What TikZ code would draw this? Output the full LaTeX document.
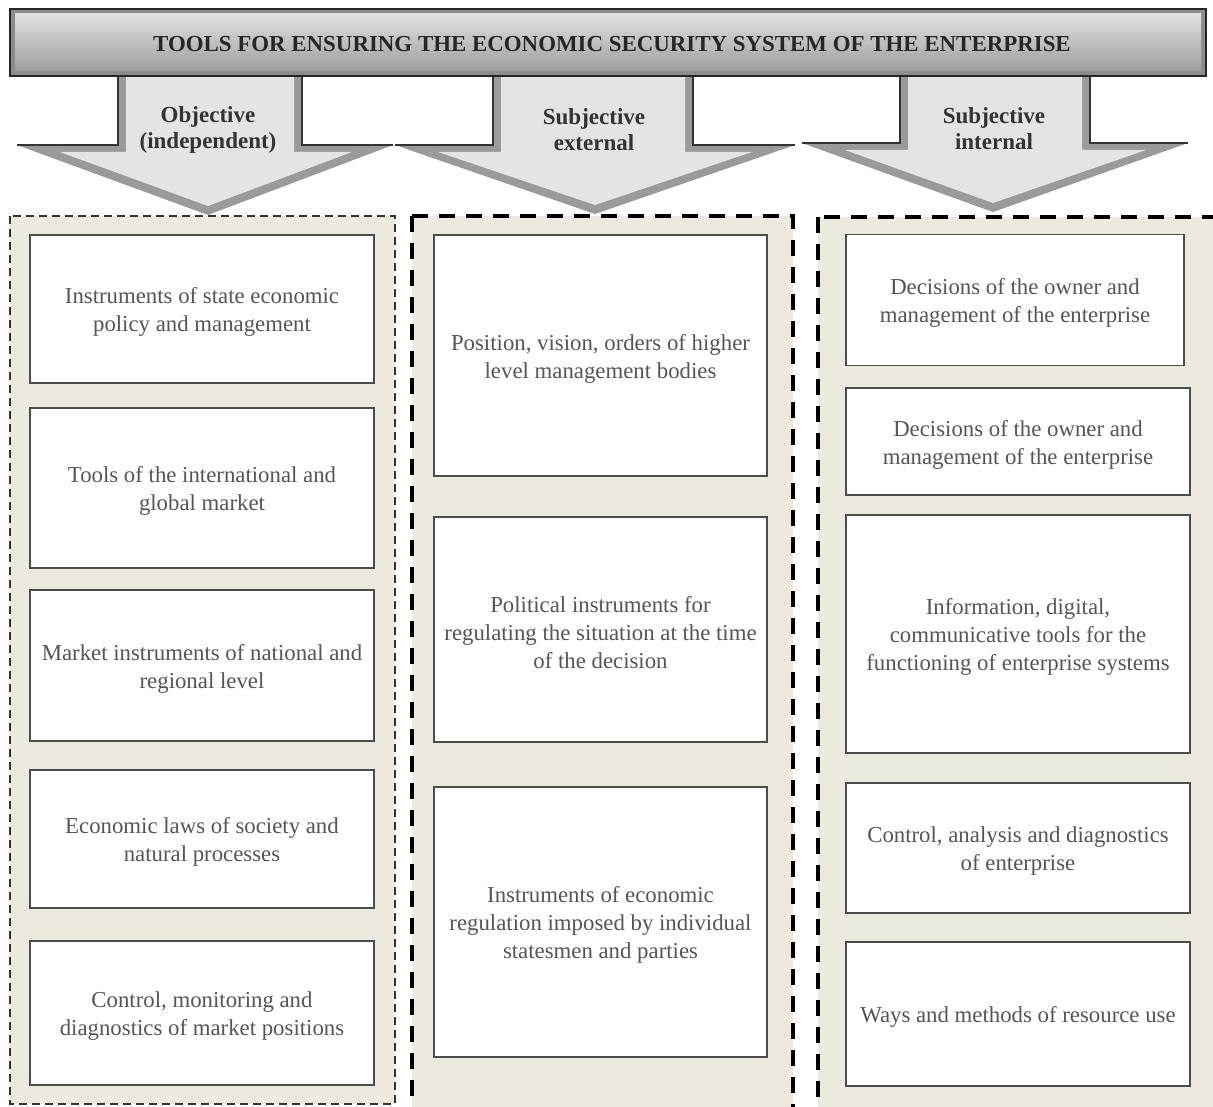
\documentclass[tikz,border=0pt]{standalone}
\usepackage{fontspec}
\setmainfont{Liberation Serif}
\definecolor{panelfill}{HTML}{ECEADF}
\definecolor{facegray}{HTML}{E4E4E4}
\definecolor{edgegray}{HTML}{9A9A9A}
\definecolor{txtgray}{HTML}{555555}
\begin{document}
\begin{tikzpicture}[x=1pt,y=-1pt,
  box/.style={draw=black!70, line width=1.3pt, fill=white, inner sep=0pt},
  boxtext/.style={align=center, font=\fontsize{22.8}{28}\selectfont, text=txtgray, inner sep=0pt, yshift=-3pt},
  alabel/.style={align=center, font=\bfseries\fontsize{23}{26}\selectfont, text=black!80},
  thinpanel/.style={draw=black!80, line width=1.8pt, dash pattern=on 8pt off 5pt, fill=panelfill},
  thickpanel/.style={draw=black, line width=3.8pt, dash pattern=on 16pt off 11pt, fill=panelfill},
  arrowouter/.style={fill=edgegray},
  arrowinner/.style={fill=facegray},
  arrowline/.style={draw=black!80, line width=1.4pt, line join=miter}]
\useasboundingbox (0,0) rectangle (1213,1107);
\fill[white] (0,0) rectangle (1213,1107);

% panels
\path[thinpanel] (10,216) rectangle (395,1104);
\path[thickpanel] (412,216) rectangle (793,1112);
\path[thickpanel] (818,217) rectangle (1230,1112);

% arrow 1
\fill[arrowouter] (118,75)--(118,145)--(17,145)--(208,215)--(393,145)--(302,145)--(302,75)--cycle;
\fill[arrowinner] (126,77)--(126,152)--(60,152)--(208,206)--(352,152)--(294,152)--(294,77)--cycle;
\draw[arrowline] (118,75)--(118,145)--(17,145);
\draw[arrowline] (302,75)--(302,145)--(393,145);
% arrow 2
\fill[arrowouter] (493,75)--(493,145)--(395,145)--(595,214)--(795,145)--(693,145)--(693,75)--cycle;
\fill[arrowinner] (501,77)--(501,152)--(438,152)--(595,205)--(752,152)--(685,152)--(685,77)--cycle;
\draw[arrowline] (493,75)--(493,145)--(395,145);
\draw[arrowline] (693,75)--(693,145)--(795,145);
% arrow 3
\fill[arrowouter] (900,75)--(900,143)--(802,143)--(993,212)--(1188,143)--(1090,143)--(1090,75)--cycle;
\fill[arrowinner] (908,77)--(908,150)--(845,150)--(993,203)--(1146,150)--(1082,150)--(1082,77)--cycle;
\draw[arrowline] (900,75)--(900,143)--(802,143);
\draw[arrowline] (1090,75)--(1090,143)--(1188,143);

% header bar
\path[fill=black!45, draw=black!85, line width=1.6pt] (10,9) rectangle (1206,76);
\shade[top color=black!12, bottom color=black!38] (15,14) rectangle (1201,71);
\node[font=\bfseries\fontsize{22.9}{26}\selectfont, text=black!85] (h) at (612,44) {TOOLS FOR ENSURING THE ECONOMIC SECURITY SYSTEM OF THE ENTERPRISE};

% arrow labels
\node[alabel] (a1) at (208,130) {Objective\\(independent)};
\node[alabel] (a2) at (594,130) {Subjective\\external};
\node[alabel] (a3) at (994,129) {Subjective\\internal};

% left column
\node[box, minimum width=344pt, minimum height=148pt] (l1) at (202,309) {};
\node[boxtext] (t-l1) at (l1.center) {Instruments of state economic\\policy and management};
\node[box, minimum width=344pt, minimum height=160pt] (l2) at (202,488) {};
\node[boxtext] (t-l2) at (l2.center) {Tools of the international and\\global market};
\node[box, minimum width=344pt, minimum height=151pt] (l3) at (202,665.5) {};
\node[boxtext] (t-l3) at (l3.center) {Market instruments of national and\\regional level};
\node[box, minimum width=344pt, minimum height=138pt] (l4) at (202,839) {};
\node[boxtext] (t-l4) at (l4.center) {Economic laws of society and\\natural processes};
\node[box, minimum width=344pt, minimum height=144pt] (l5) at (202,1013) {};
\node[boxtext] (t-l5) at (l5.center) {Control, monitoring and\\diagnostics of market positions};

% middle column
\node[box, minimum width=333pt, minimum height=241pt] (m1) at (600.5,355.5) {};
\node[boxtext] (t-m1) at (m1.center) {Position, vision, orders of higher\\level management bodies};
\node[box, minimum width=333pt, minimum height=225pt] (m2) at (600.5,629.5) {};
\node[boxtext] (t-m2) at (m2.center) {Political instruments for\\regulating the situation at the time\\of the decision};
\node[box, minimum width=333pt, minimum height=270pt] (m3) at (600.5,922) {};
\node[boxtext] (t-m3) at (m3.center) {Instruments of economic\\regulation imposed by individual\\statesmen and parties};

% right column
\node[box, minimum width=338pt, minimum height=131pt] (r1) at (1015,300) {};
\node[boxtext] (t-r1) at (r1.center) {Decisions of the owner and\\management of the enterprise};
\node[box, minimum width=344pt, minimum height=107pt] (r2) at (1018,441.5) {};
\node[boxtext] (t-r2) at (r2.center) {Decisions of the owner and\\management of the enterprise};
\node[box, minimum width=344pt, minimum height=238pt] (r3) at (1018,634) {};
\node[boxtext] (t-r3) at (r3.center) {Information, digital,\\communicative tools for the\\functioning of enterprise systems};
\node[box, minimum width=344pt, minimum height=130pt] (r4) at (1018,848) {};
\node[boxtext] (t-r4) at (r4.center) {Control, analysis and diagnostics\\of enterprise};
\node[box, minimum width=344pt, minimum height=144pt] (r5) at (1018,1014) {};
\node[boxtext] (t-r5) at (r5.center) {Ways and methods of resource use};
\end{tikzpicture}
\end{document}
